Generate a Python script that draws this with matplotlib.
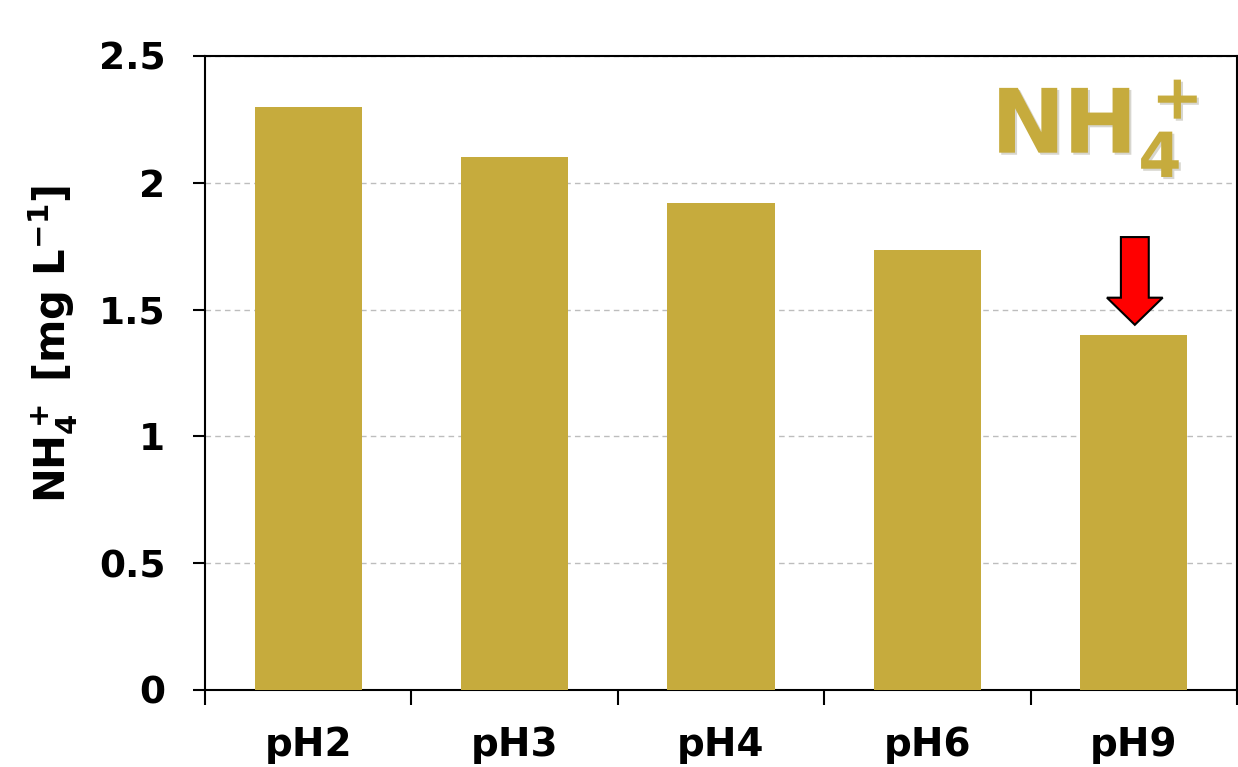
import matplotlib
matplotlib.use("Agg")
import matplotlib.pyplot as plt
import matplotlib.patheffects as pe
from matplotlib.patches import FancyArrow
import numpy as np

categories = ["pH2", "pH3", "pH4", "pH6", "pH9"]
nh4_values = [2.30, 2.10, 1.92, 1.735, 1.40]
y_ticks = [0, 0.5, 1, 1.5, 2, 2.5]
y_tick_labels = ["0", "0.5", "1", "1.5", "2", "2.5"]

bar_color = "#C6AB3D"

plt.rcParams["font.family"] = ["DejaVu Sans"]
plt.rcParams["font.weight"] = "bold"
plt.rcParams["mathtext.default"] = "bf"

fig = plt.figure(figsize=(12.38, 7.67), dpi=100)
ax = fig.add_axes([205 / 1238, 77 / 767, 1032 / 1238, 634 / 767])

x = np.arange(len(categories))
ax.bar(x, nh4_values, width=0.52, color=bar_color, zorder=3)

ax.set_xlim(-0.5, len(categories) - 0.5)
ax.set_ylim(0, 2.5)

# y axis
ax.set_yticks(y_ticks)
ax.set_yticklabels(y_tick_labels, fontsize=27, fontweight="bold")
ax.tick_params(axis="y", direction="out", length=8.5, width=1.5, pad=20)
ax.yaxis.grid(True, linestyle=(0, (4, 3)), color="#BDBDBD", linewidth=1, zorder=0)

# x axis: ticks at category boundaries, labels at bar centres
ax.set_xticks(np.arange(-0.5, len(categories), 1.0))
ax.set_xticklabels([])
ax.set_xticks(x, minor=True)
ax.set_xticklabels(categories, minor=True, fontsize=28, fontweight="bold")
ax.tick_params(axis="x", which="major", direction="out", length=11, width=1.5)
ax.tick_params(axis="x", which="minor", length=0, pad=26)

for side in ["left", "bottom", "top", "right"]:
    ax.spines[side].set_linewidth(1.5)
    ax.spines[side].set_color("black")

ax.set_ylabel("NH$_4^+$ [mg L$^{-1}$]", fontsize=30, fontweight="bold")
ax.yaxis.set_label_coords(-0.121, 0.546)

# species label
ax.text(0.963, 0.885, "NH$_4^+$", transform=ax.transAxes, ha="right", va="center",
        fontsize=64, color=bar_color, fontweight="bold",
        path_effects=[pe.SimplePatchShadow(offset=(1.5, -1.5), alpha=0.2), pe.Normal()])

# red arrow pointing at the pH9 bar
arrow_top = 1.786
arrow_tip = 1.44
ax.add_patch(FancyArrow(4.005, arrow_top, 0, arrow_tip - arrow_top,
                        width=0.135, head_width=0.27, head_length=0.107,
                        length_includes_head=True, facecolor="#FF0000",
                        edgecolor="black", linewidth=1.5, zorder=5))

fig.savefig("out.png", dpi=100)
